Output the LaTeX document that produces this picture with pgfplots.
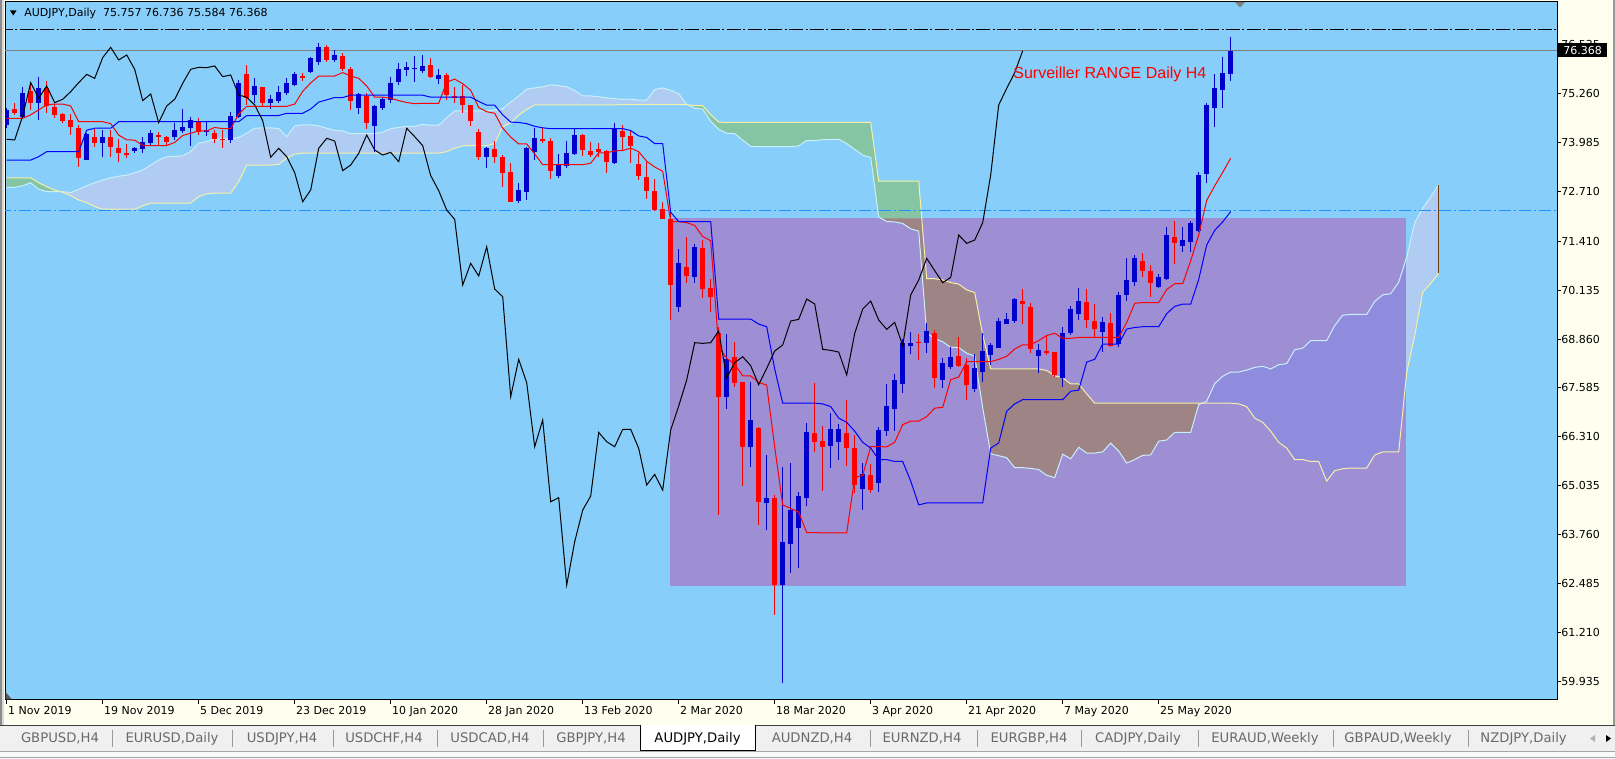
\documentclass[border=0pt]{standalone}
\usepackage{fontspec}
\setmainfont{DejaVu Sans}
\newfontfamily\lib{Liberation Sans}
\usepackage{pgfplots}
\usepackage{pgfplotstable}
\pgfplotsset{compat=1.18}

\definecolor{bgc}{RGB}{135,206,250}
\definecolor{rectc}{RGB}{158,142,211}
\definecolor{bullout}{RGB}{176,204,242}
\definecolor{bearout}{RGB}{134,197,164}
\definecolor{bearin}{RGB}{158,132,133}
\definecolor{bullin}{RGB}{143,140,222}
\definecolor{spana}{RGB}{200,240,250}
\definecolor{spanb}{RGB}{245,240,170}
\definecolor{bullc}{RGB}{0,0,205}
\definecolor{bearc}{RGB}{255,0,0}
\definecolor{ivoryc}{RGB}{255,255,240}
\definecolor{dodger}{RGB}{30,144,255}
\definecolor{tabbg}{RGB}{240,240,240}
\definecolor{tabtxt}{RGB}{105,105,105}
\definecolor{brownl}{RGB}{110,60,20}

% bullish candles: index open high low close
\pgfplotstableread{
i o h l c
0 74.435 74.87 74.35 74.826
2 74.652 75.433 74.61 75.26
4 75.0 75.68 74.565 75.39
10 73.524 74.235 73.524 74.2
12 73.975 74.305 73.593 74.114
16 73.767 73.87 73.715 73.828
17 73.8 74.114 73.715 74.0
18 73.975 74.305 73.914 74.218
21 74.13 74.478 74.045 74.305
22 74.288 74.843 74.218 74.39
23 74.35 74.652 73.888 74.565
25 74.27 74.522 74.149 74.305
28 74.045 74.782 73.958 74.67
29 74.635 75.606 74.61 75.537
31 75.216 75.65 75.0 75.45
33 75.017 75.216 74.843 75.104
34 75.07 75.45 75.017 75.303
35 75.26 75.65 75.216 75.537
36 75.477 75.824 75.45 75.754
38 75.824 76.215 75.797 76.189
39 76.084 76.579 75.998 76.457
41 76.128 76.388 76.067 76.258
44 74.869 75.277 74.722 75.242
46 74.409 74.947 73.741 74.93
47 74.869 75.173 74.826 75.104
48 75.086 75.694 75.0 75.52
49 75.563 76.041 75.477 75.885
50 75.867 76.084 75.711 75.937
51 75.885 76.232 75.563 75.928
52 75.85 76.258 75.78 75.972
54 75.624 75.885 75.503 75.737
60 73.611 73.854 73.307 73.828
64 72.463 72.915 72.411 72.741
65 72.698 73.87 72.481 73.826
66 73.74 74.347 73.523 74.087
69 73.106 73.67 73.045 73.392
70 73.366 74.017 73.306 73.696
71 73.679 74.321 73.653 74.174
76 73.453 74.478 73.418 74.347
84 69.702 71.196 69.554 70.831
86 70.484 71.334 70.31 71.265
90 67.358 68.99 67.036 68.33
93 66.055 67.748 65.534 66.75
95 64.597 65.838 63.885 64.727
97 62.452 65.534 59.90 63.581
98 63.511 65.621 62.773 64.405
99 63.945 64.866 62.903 64.77
100 64.71 66.663 64.518 66.428
103 66.081 66.923 65.491 66.507
104 66.185 66.646 65.708 66.507
107 64.944 65.621 64.405 65.334
109 65.118 66.576 64.883 66.49
110 66.472 67.688 66.333 67.115
111 67.036 67.94 66.472 67.792
112 67.688 68.851 67.462 68.765
113 68.686 69.033 68.469 68.747
115 68.765 69.268 68.504 69.068
117 67.792 68.374 67.575 68.243
118 68.122 68.66 68.07 68.4
121 67.549 68.469 67.488 68.096
122 68.009 69.007 67.749 68.547
123 68.443 68.765 68.183 68.704
124 68.634 69.398 68.617 69.329
125 69.251 69.546 69.251 69.372
126 69.338 69.937 69.268 69.902
129 68.426 68.721 67.983 68.565
132 67.853 69.181 67.618 69.007
133 69.007 69.72 68.964 69.641
134 69.502 70.18 69.355 69.85
137 69.051 69.424 68.53 69.294
139 68.721 70.093 68.66 70.006
140 70.006 70.961 69.859 70.397
141 70.353 71.048 70.24 70.961
144 70.223 70.544 70.197 70.466
145 70.423 71.768 70.397 71.569
147 71.282 71.768 71.135 71.438
148 71.395 71.934 71.135 71.89
149 71.682 73.201 71.656 73.132
150 73.158 74.999 72.932 74.955
151 74.868 75.763 74.391 75.389
152 75.346 76.214 74.868 75.798
153 75.757 76.736 75.584 76.368
}\bull

% bearish candles
\pgfplotstableread{
i o h l c
1 74.852 75.017 74.696 74.756
3 75.32 75.477 74.826 75.017
5 75.39 75.58 74.74 74.93
6 74.895 74.982 74.61 74.696
7 74.722 74.74 74.478 74.548
8 74.565 74.72 74.175 74.39
9 74.35 74.435 73.35 73.567
11 74.114 74.32 73.87 73.958
13 74.114 74.305 73.61 73.87
14 73.828 74.06 73.48 73.715
15 73.697 73.93 73.585 73.68
19 74.175 74.244 73.888 74.114
20 74.13 74.149 73.888 74.0
24 74.54 74.63 74.175 74.26
26 74.235 74.305 73.975 74.062
27 74.07 74.305 73.828 74.045
30 75.763 75.998 74.956 75.13
32 75.416 75.416 74.93 75.017
37 75.711 75.797 75.59 75.65
40 76.475 76.518 76.067 76.128
42 76.232 76.301 75.85 75.885
43 75.893 75.937 74.826 75.07
45 75.19 75.277 74.322 74.496
53 75.998 76.171 75.65 75.694
55 75.737 75.797 75.086 75.216
56 75.19 75.433 75.017 75.156
57 75.19 75.477 74.756 74.956
58 74.956 74.956 74.409 74.548
59 74.262 74.322 73.524 73.593
61 73.809 74.009 73.436 73.609
62 73.609 73.653 72.811 73.193
63 73.219 73.453 72.437 72.437
67 74.07 74.39 73.974 74.017
68 74.017 74.087 73.028 73.245
72 74.174 74.191 73.635 73.783
73 73.757 73.983 73.609 73.653
74 73.8 73.957 73.592 73.722
75 73.766 73.783 73.175 73.479
77 74.278 74.434 73.783 74.13
78 74.148 74.287 73.436 73.896
79 73.418 73.696 73.002 73.115
80 73.071 73.479 72.507 72.724
81 72.715 73.019 72.203 72.22
82 72.237 72.437 71.977 71.977
83 71.977 72.133 69.355 70.266
85 70.727 71.526 70.31 70.501
87 71.239 71.439 69.936 70.162
88 70.197 70.423 69.572 69.963
89 69.007 69.181 64.275 67.358
91 68.4 68.79 67.618 67.722
92 67.748 67.748 65.03 66.055
94 66.55 66.576 64.015 64.622
96 64.727 64.796 61.67 62.452
101 66.402 67.722 65.925 66.185
102 66.203 66.593 64.909 66.055
105 66.402 67.271 65.552 66.012
106 66.012 66.359 64.857 65.057
108 65.317 65.604 64.84 64.926
114 68.782 68.99 68.313 68.765
116 69.025 69.094 67.575 67.853
119 68.417 68.903 68.122 68.165
120 68.183 68.357 67.271 67.67
127 69.85 70.154 69.242 69.772
128 69.694 69.789 68.487 68.591
130 68.539 68.964 68.443 68.521
131 68.513 68.513 67.879 67.922
135 69.815 70.154 69.138 69.355
136 69.329 69.763 68.877 69.112
138 69.268 69.529 68.66 68.686
142 70.892 71.091 70.483 70.64
143 70.631 70.788 69.945 70.327
146 71.508 71.934 70.805 71.352
}\bear

% closes used by the lagging (chikou) line, plotted 26 bars back
\pgfplotstableread{
i c
26 74.062
27 74.045
28 74.67
29 75.537
30 75.13
31 75.45
32 75.017
33 75.104
34 75.303
35 75.537
36 75.754
37 75.65
38 76.189
39 76.457
40 76.128
41 76.258
42 75.885
43 75.07
44 75.242
45 74.496
46 74.93
47 75.104
48 75.52
49 75.885
50 75.937
51 75.928
52 75.972
53 75.694
54 75.737
55 75.216
56 75.156
57 74.956
58 74.548
59 73.593
60 73.828
61 73.609
62 73.193
63 72.437
64 72.741
65 73.826
66 74.087
67 74.017
68 73.245
69 73.392
70 73.696
71 74.174
72 73.783
73 73.653
74 73.722
75 73.479
76 74.347
77 74.13
78 73.896
79 73.115
80 72.724
81 72.22
82 71.977
83 70.266
84 70.831
85 70.501
86 71.265
87 70.162
88 69.963
89 67.358
90 68.33
91 67.722
92 66.055
93 66.75
94 64.622
95 64.727
96 62.452
97 63.581
98 64.405
99 64.77
100 66.428
101 66.185
102 66.055
103 66.507
104 66.507
105 66.012
106 65.057
107 65.334
108 64.926
109 66.49
110 67.115
111 67.792
112 68.765
113 68.747
114 68.765
115 69.068
116 67.853
117 68.243
118 68.4
119 68.165
120 67.67
121 68.096
122 68.547
123 68.704
124 69.329
125 69.372
126 69.902
127 69.772
128 68.591
129 68.565
130 68.521
131 67.922
132 69.007
133 69.641
134 69.85
135 69.355
136 69.112
137 69.294
138 68.686
139 70.006
140 70.397
141 70.961
142 70.64
143 70.327
144 70.466
145 71.569
146 71.352
147 71.438
148 71.89
149 73.132
150 74.955
151 75.389
152 75.798
153 76.368
}\closes

% tenkan (T) and kijun (K)
\pgfplotstableread{
i T K
0 74.61 73.52
1 74.61 73.52
2 74.61 73.52
3 74.70 73.52
4 74.83 73.61
5 74.96 73.74
6 74.98 73.74
7 74.98 73.74
8 74.93 73.74
9 74.52 73.74
10 74.52 74.30
11 74.52 74.35
12 74.52 74.35
13 74.47 74.35
14 74.17 74.52
15 74.05 74.52
16 74.04 74.52
17 73.90 74.52
18 73.90 74.52
19 73.90 74.52
20 73.90 74.52
21 73.98 74.52
22 74.16 74.52
23 74.22 74.52
24 74.28 74.52
25 74.28 74.52
26 74.37 74.52
27 74.34 74.52
28 74.34 74.52
29 74.72 74.52
30 74.92 74.68
31 74.92 74.68
32 74.92 74.68
33 74.92 74.68
34 74.92 74.68
35 74.92 74.74
36 74.98 74.74
37 75.31 74.74
38 75.53 74.85
39 75.71 75.03
40 75.71 75.09
41 75.71 75.15
42 75.80 75.15
43 75.71 75.21
44 75.65 75.21
45 75.45 75.21
46 75.16 75.21
47 75.16 75.21
48 75.13 75.21
49 75.07 75.21
50 75.02 75.21
51 74.99 75.21
52 75.00 75.21
53 75.00 75.16
54 75.00 75.16
55 75.55 75.16
56 75.63 75.16
57 75.51 75.16
58 75.34 75.16
59 74.89 75.05
60 74.78 74.95
61 74.74 74.95
62 74.35 74.70
63 74.12 74.51
64 73.94 74.50
65 73.94 74.47
66 73.68 74.40
67 73.40 74.36
68 73.40 74.34
69 73.40 74.34
70 73.40 74.34
71 73.40 74.34
72 73.40 74.34
73 73.44 74.34
74 73.71 74.34
75 73.71 74.34
76 73.76 74.34
77 73.77 74.34
78 73.83 74.29
79 73.74 74.15
80 73.49 74.11
81 73.34 73.95
82 73.23 73.95
83 71.92 72.16
84 71.92 71.92
85 71.89 71.92
86 71.82 71.92
87 71.53 71.92
88 71.42 71.92
89 68.65 69.38
90 68.36 69.38
91 68.20 69.38
92 67.90 69.38
93 67.90 69.38
94 67.73 69.25
95 67.66 69.18
96 66.05 68.08
97 64.54 67.19
98 64.45 67.19
99 64.35 67.19
100 63.82 67.19
101 63.82 67.19
102 63.81 67.17
103 63.81 67.10
104 63.81 66.80
105 63.81 66.69
106 65.25 66.46
107 65.31 66.17
108 66.06 66.02
109 66.06 65.72
110 66.05 65.72
111 66.17 65.67
112 66.63 65.67
113 66.72 65.16
114 66.72 64.54
115 66.84 64.59
116 67.06 64.59
117 67.08 64.59
118 67.80 64.59
119 67.87 64.59
120 68.27 64.59
121 68.27 64.59
122 68.27 64.59
123 68.27 66.02
124 68.33 66.15
125 68.41 66.98
126 68.60 67.17
127 68.71 67.28
128 68.71 67.28
129 68.82 67.28
130 68.95 67.28
131 69.01 67.28
132 68.88 67.28
133 68.88 67.50
134 68.90 67.53
135 68.90 68.26
136 68.90 68.33
137 68.90 68.73
138 68.90 68.73
139 68.90 68.73
140 69.29 69.12
141 69.79 69.16
142 69.81 69.18
143 69.81 69.18
144 69.81 69.18
145 70.15 69.52
146 70.30 69.71
147 70.30 69.77
148 70.90 69.77
149 71.57 70.41
150 72.47 71.31
151 72.85 71.69
152 73.20 71.91
153 73.57 72.18
}\tk

% senkou span A and B (already shifted 26 bars forward)
\pgfplotstableread{
j A B
0 72.81 73.06
1 72.81 73.06
2 72.85 73.06
3 72.93 73.06
4 72.76 72.93
5 72.70 72.83
6 72.70 72.74
7 72.70 72.68
8 72.67 72.59
9 72.76 72.48
10 72.85 72.41
11 72.93 72.31
12 73.00 72.24
13 73.06 72.24
14 73.10 72.24
15 73.13 72.24
16 73.19 72.24
17 73.26 72.33
18 73.39 72.40
19 73.52 72.40
20 73.61 72.40
21 73.62 72.40
22 73.63 72.40
23 73.74 72.40
24 73.96 72.57
25 74.00 72.64
26 74.07 72.66
27 74.07 72.66
28 74.07 72.66
29 74.11 72.96
30 74.22 73.39
31 74.35 73.39
32 74.36 73.39
33 74.36 73.39
34 74.34 73.41
35 74.13 73.57
36 74.41 73.68
37 74.44 73.70
38 74.44 73.70
39 74.41 73.70
40 74.35 73.70
41 74.29 73.70
42 74.28 73.70
43 74.21 73.70
44 74.21 73.70
45 74.21 73.70
46 74.21 73.70
47 74.25 73.70
48 74.34 73.70
49 74.37 73.70
50 74.40 73.70
51 74.40 73.70
52 74.45 73.70
53 74.43 73.70
54 74.43 73.70
55 74.62 73.74
56 74.80 73.83
57 74.80 73.89
58 74.80 73.90
59 74.80 73.90
60 74.80 73.90
61 74.83 73.95
62 74.86 74.39
63 75.03 74.49
64 75.19 74.69
65 75.37 74.84
66 75.40 74.96
67 75.43 74.96
68 75.48 74.96
69 75.46 74.96
70 75.43 74.96
71 75.33 74.96
72 75.19 74.96
73 75.19 74.96
74 75.17 74.96
75 75.14 74.96
76 75.12 74.96
77 75.10 74.965
78 75.11 74.965
79 75.08 74.965
80 75.08 74.965
81 75.36 74.965
82 75.40 74.965
83 75.34 74.965
84 75.25 74.965
85 74.97 74.965
86 74.87 74.94
87 74.85 74.94
88 74.53 74.70
89 74.32 74.51
90 74.22 74.50
91 74.21 74.50
92 74.04 74.50
93 73.88 74.50
94 73.87 74.50
95 73.87 74.50
96 73.87 74.50
97 73.87 74.50
98 73.87 74.50
99 73.89 74.50
100 74.03 74.50
101 74.03 74.50
102 74.05 74.50
103 74.06 74.50
104 74.06 74.50
105 73.95 74.50
106 73.80 74.50
107 73.65 74.50
108 73.59 74.50
109 72.04 72.97
110 71.92 72.97
111 71.91 72.97
112 71.87 72.97
113 71.73 72.97
114 71.67 72.97
115 69.02 70.43
116 68.87 70.43
117 68.79 70.40
118 68.64 70.33
119 68.64 70.29
120 68.49 70.14
121 68.42 70.07
122 67.07 68.97
123 65.87 68.08
124 65.82 68.08
125 65.77 68.08
126 65.51 68.08
127 65.51 68.08
128 65.49 68.08
129 65.46 68.08
130 65.31 68.04
131 65.25 67.90
132 65.86 67.85
133 65.74 67.69
134 66.04 67.69
135 65.89 67.43
136 65.89 67.19
137 65.92 67.19
138 66.15 67.19
139 65.94 67.19
140 65.63 67.19
141 65.72 67.19
142 65.83 67.19
143 65.84 67.19
144 66.20 67.19
145 66.23 67.19
146 66.43 67.19
147 66.43 67.19
148 66.43 67.19
149 67.15 67.19
150 67.24 67.19
151 67.70 67.19
152 67.89 67.19
153 68.00 67.19
154 68.00 67.17
155 68.05 67.10
156 68.12 66.80
157 68.15 66.69
158 68.08 66.46
159 68.19 66.17
160 68.22 66.02
161 68.58 65.72
162 68.62 65.72
163 68.82 65.67
164 68.82 65.67
165 68.82 65.16
166 69.21 65.43
167 69.48 65.48
168 69.50 65.50
169 69.50 65.50
170 69.50 65.50
171 69.84 65.84
172 70.01 65.92
173 70.04 65.92
174 70.34 65.92
175 70.99 67.99
176 71.89 68.95
177 72.27 70.08
178 72.56 70.31
179 72.88 70.57
}\spans

\newcommand{\tf}{\fontsize{5.5pt}{6.6pt}\selectfont}
\newcommand{\tabf}{\fontsize{6.6pt}{8pt}\selectfont}
\pgfplotsset{candle/.style={only marks, mark=*, mark size=0pt, mark options={draw=none, fill=none}, forget plot}}

\begin{document}
\begin{tikzpicture}
\useasboundingbox (0,0) rectangle (807.5pt,379.5pt);
\begin{scope}[x=0.5pt,y=-0.5pt,shift={(0pt,379.5pt)}]
  \fill[black!33] (0,0) rectangle (1615,759);
  \fill[ivoryc] (4,0) rectangle (1613,725);
  \fill[black!45] (0,0) rectangle (2,725);
  \fill[black!15] (2,0) rectangle (4,725);
  \fill[black!40] (1613,0) rectangle (1615,725);
  \fill[tabbg] (0,725) rectangle (1615,751);
  \fill[black!2] (0,751) rectangle (1615,759);
  \draw[black!35, line width=0.5pt] (0,751.5) -- (1615,751.5);
  \draw[black!35, line width=0.5pt] (0,757.5) -- (1615,757.5);
\end{scope}

\begin{axis}[
  at={(2.5pt,29.5pt)}, anchor=south west,
  scale only axis, width=776pt, height=349.15pt,
  xmin=-0.2125, xmax=193.79, ymin=59.458, ymax=77.646,
  axis background/.style={fill=bgc},
  axis line style={black, line width=0.5pt},
  xtick={0,12,24,36,48,60,72,84,96,108,120,132,144},
  xticklabels={1 Nov 2019,19 Nov 2019,5 Dec 2019,23 Dec 2019,10 Jan 2020,28 Jan 2020,13 Feb 2020,2 Mar 2020,18 Mar 2020,3 Apr 2020,21 Apr 2020,7 May 2020,25 May 2020},
  ytick={59.935,61.210,62.485,63.760,65.035,66.310,67.585,68.860,70.135,71.410,72.710,73.985,75.260,76.535},
  yticklabels={59.935,61.210,62.485,63.760,65.035,66.310,67.585,68.860,70.135,71.410,72.710,73.985,75.260,76.535},
  xtick pos=bottom, ytick pos=right, yticklabel pos=right,
  tick align=outside, major tick length=2pt,
  tick style={black, line width=0.5pt},
  xticklabel style={font=\tf, anchor=north west, inner sep=0pt, xshift=0.5pt, yshift=-1pt},
  yticklabel style={font=\tf, anchor=west, inner sep=0pt},
  clip=true,
]
% purple range rectangle
\addplot[fill=rectc, draw=none, forget plot] coordinates {(82.9,62.44) (174.9,62.44) (174.9,72.0) (82.9,72.0)};
% cloud: bearish part (span B above span A)
\addplot[fill=bearout, draw=none, forget plot] coordinates {(0,72.81)(1,72.81)(2,72.85)(3,72.93)(4,72.76)(5,72.70)(6,72.70)(6.67,72.70)(6,72.74)(5,72.83)(4,72.93)(3,73.06)(0,73.06)};
% cloud: bullish part 1
\addplot[fill=bullout, draw=none, forget plot] coordinates {(6.67,72.70)(7,72.70)(8,72.67)(9,72.76)(10,72.85)(11,72.93)(12,73.00)(13,73.06)(14,73.10)(15,73.13)(16,73.19)(17,73.26)(18,73.39)(19,73.52)(20,73.61)(21,73.62)(22,73.63)(23,73.74)(24,73.96)(25,74.00)(26,74.07)(28,74.07)(29,74.11)(30,74.22)(31,74.35)(32,74.36)(33,74.36)(34,74.34)(35,74.13)(36,74.41)(37,74.44)(38,74.44)(39,74.41)(40,74.35)(41,74.29)(42,74.28)(43,74.21)(46,74.21)(47,74.25)(48,74.34)(49,74.37)(50,74.40)(51,74.40)(52,74.45)(53,74.43)(54,74.43)(55,74.62)(56,74.80)(60,74.80)(61,74.83)(62,74.86)(63,75.03)(64,75.19)(65,75.37)(66,75.40)(67,75.43)(68,75.48)(69,75.46)(70,75.43)(71,75.33)(72,75.19)(73,75.19)(74,75.17)(75,75.14)(76,75.12)(77,75.10)(78,75.11)(79,75.08)(80,75.08)(81,75.36)(82,75.40)(83,75.34)(84,75.25)(85,74.967)(77,74.965)(76,74.96)(66,74.96)(65,74.84)(64,74.69)(63,74.49)(62,74.39)(61,73.95)(58,73.90)(57,73.89)(56,73.83)(55,73.74)(54,73.70)(37,73.70)(36,73.68)(35,73.57)(34,73.41)(33,73.39)(30,73.39)(29,72.96)(28,72.66)(26,72.66)(25,72.64)(24,72.57)(23,72.40)(18,72.40)(17,72.33)(16,72.24)(12,72.24)(11,72.31)(10,72.41)(9,72.48)(8,72.59)(7,72.68)};
% cloud: bearish part 2
\addplot[fill=bearout, draw=none, forget plot] coordinates {(85,74.967)(86,74.87)(87,74.85)(88,74.53)(89,74.32)(90,74.22)(91,74.21)(92,74.04)(93,73.88)(94,73.87)(98,73.87)(99,73.89)(100,74.03)(101,74.03)(102,74.05)(103,74.06)(104,74.06)(105,73.95)(106,73.80)(107,73.65)(108,73.59)(109,72.04)(110,71.92)(111,71.91)(112,71.87)(113,71.73)(114,71.67)(115,69.02)(116,68.87)(117,68.79)(118,68.64)(119,68.64)(120,68.49)(121,68.42)(122,67.07)(123,65.87)(124,65.82)(125,65.77)(126,65.51)(127,65.51)(128,65.49)(129,65.46)(130,65.31)(131,65.25)(132,65.86)(133,65.74)(134,66.04)(135,65.89)(136,65.89)(137,65.92)(138,66.15)(139,65.94)(140,65.63)(141,65.72)(142,65.83)(143,65.84)(144,66.20)(145,66.23)(146,66.43)(148,66.43)(149,67.15)(149.3,67.185)(149,67.19)(136,67.19)(135,67.43)(134,67.69)(133,67.69)(132,67.85)(131,67.90)(130,68.04)(129,68.08)(123,68.08)(122,68.97)(121,70.07)(120,70.14)(119,70.29)(118,70.33)(117,70.40)(116,70.43)(115,70.43)(114,72.97)(109,72.97)(108,74.50)(90,74.50)(89,74.51)(88,74.70)(87,74.94)(86,74.94)};
% cloud: bullish part 2
\addplot[fill=bullout, draw=none, forget plot] coordinates {(149.3,67.185)(150,67.24)(151,67.70)(152,67.89)(153,68.00)(154,68.00)(155,68.05)(156,68.12)(157,68.15)(158,68.08)(159,68.19)(160,68.22)(161,68.58)(162,68.62)(163,68.82)(165,68.82)(166,69.21)(167,69.48)(168,69.50)(170,69.50)(171,69.84)(172,70.01)(173,70.04)(174,70.34)(175,70.99)(176,71.89)(177,72.27)(178,72.56)(179,72.88)(179,70.57)(178,70.31)(177,70.08)(176,68.95)(175,67.99)(174,65.92)(172,65.92)(171,65.84)(170,65.50)(168,65.50)(167,65.48)(166,65.43)(165,65.16)(164,65.67)(163,65.67)(162,65.72)(161,65.72)(160,66.02)(159,66.17)(158,66.46)(157,66.69)(156,66.80)(155,67.10)(154,67.17)(153,67.19)(150,67.19)};
% cloud parts lying over the range rectangle
\addplot[fill=bearin, draw=none, forget plot] coordinates {(109.33,72.0)(114.38,72.0)(115,70.43)(116,70.43)(117,70.40)(118,70.33)(119,70.29)(120,70.14)(121,70.07)(122,68.97)(123,68.08)(129,68.08)(130,68.04)(131,67.90)(132,67.85)(133,67.69)(134,67.69)(135,67.43)(136,67.19)(149,67.19)(149.3,67.185)(149,67.15)(148,66.43)(146,66.43)(145,66.23)(144,66.20)(143,65.84)(142,65.83)(141,65.72)(140,65.63)(139,65.94)(138,66.15)(137,65.92)(136,65.89)(135,65.89)(134,66.04)(133,65.74)(132,65.86)(131,65.25)(130,65.31)(129,65.46)(128,65.49)(127,65.51)(126,65.51)(125,65.77)(124,65.82)(123,65.87)(122,67.07)(121,68.42)(120,68.49)(119,68.64)(118,68.64)(117,68.79)(116,68.87)(115,69.02)(114,71.67)(113,71.73)(112,71.87)(111,71.91)(110,71.92)};
\addplot[fill=bullin, draw=none, forget plot] coordinates {(149.3,67.185)(150,67.24)(151,67.70)(152,67.89)(153,68.00)(154,68.00)(155,68.05)(156,68.12)(157,68.15)(158,68.08)(159,68.19)(160,68.22)(161,68.58)(162,68.62)(163,68.82)(165,68.82)(166,69.21)(167,69.48)(168,69.50)(170,69.50)(171,69.84)(172,70.01)(173,70.04)(174,70.34)(174.9,70.925)(174.9,67.78)(174,65.92)(172,65.92)(171,65.84)(170,65.50)(168,65.50)(167,65.48)(166,65.43)(165,65.16)(164,65.67)(163,65.67)(162,65.72)(161,65.72)(160,66.02)(159,66.17)(158,66.46)(157,66.69)(156,66.80)(155,67.10)(154,67.17)(153,67.19)(150,67.19)};
\addplot[spana, line width=0.5pt, forget plot] table[x=j, y=A] {\spans};
\addplot[spanb, line width=0.5pt, forget plot] table[x=j, y=B] {\spans};
\addplot[brownl, line width=0.5pt, forget plot] coordinates {(179,70.57) (179,72.88)};
% horizontal lines
\addplot[black, line width=0.5pt, dash pattern=on 7pt off 1.2pt on 1pt off 1.2pt, forget plot] coordinates {(-1,76.909) (200,76.909)};
\addplot[black!50, line width=0.5pt, forget plot] coordinates {(-1,76.368) (200,76.368)};
\addplot[dodger, line width=0.5pt, dash pattern=on 6pt off 1.5pt on 1pt off 1.5pt, forget plot] coordinates {(-1,72.21) (200,72.21)};
% candles: wicks
\addplot[candle,
  error bars/.cd, y dir=both, y explicit, error mark=none,
  error bar style={line width=0.5pt, draw=bullc}]
  table[x=i, y expr={(\thisrow{h}+\thisrow{l})/2}, y error expr={(\thisrow{h}-\thisrow{l})/2}] {\bull};
\addplot[candle,
  error bars/.cd, y dir=both, y explicit, error mark=none,
  error bar style={line width=0.5pt, draw=bearc}]
  table[x=i, y expr={(\thisrow{h}+\thisrow{l})/2}, y error expr={(\thisrow{h}-\thisrow{l})/2}] {\bear};
% candles: bodies
\addplot[candle,
  error bars/.cd, y dir=both, y explicit, error mark=none,
  error bar style={line width=2.5pt, draw=bullc}]
  table[x=i, y expr={(\thisrow{o}+\thisrow{c})/2}, y error expr={(\thisrow{c}-\thisrow{o})/2}] {\bull};
\addplot[candle,
  error bars/.cd, y dir=both, y explicit, error mark=none,
  error bar style={line width=2.5pt, draw=bearc}]
  table[x=i, y expr={(\thisrow{o}+\thisrow{c})/2}, y error expr={(\thisrow{o}-\thisrow{c})/2}] {\bear};
% tenkan, kijun, chikou
\addplot[red, line width=0.5pt, forget plot] table[x=i, y=T] {\tk};
\addplot[blue, line width=0.5pt, forget plot] table[x=i, y=K] {\tk};
\addplot[black, line width=0.5pt, forget plot] table[x expr=\thisrow{i}-26, y=c] {\closes};
\end{axis}

\begin{scope}[x=0.5pt,y=-0.5pt,shift={(0pt,379.5pt)}]
  \fill[black] (10,10.5) -- (16.5,10.5) -- (13.25,15.5) -- cycle;
  \node[anchor=west, inner sep=0pt, font=\tf] at (24,13.3) {AUDJPY,Daily\ \ 75.757 76.736 75.584 76.368};
  \fill[black!50] (1235,2) -- (1245,2) -- (1240,7.5) -- cycle;
  \fill[black!65] (5.5,692) -- (5.5,699.5) -- (12,699.5) -- cycle;
  \node[anchor=west, inner sep=0pt, text=red, font=\lib\fontsize{8pt}{9.6pt}\selectfont] at (1013,74.5) {Surveiller RANGE Daily H4};
  \fill[black] (1558,43.3) rectangle (1607,57);
  \node[text=white, inner sep=0pt, font=\tf] at (1582.5,50.3) {76.368};
  \draw[black!75, line width=0.5pt] (0,725.5) -- (1615,725.5);
  \foreach \sx in {112,232,333,437,543,870,977,1081,1198,1333,1468}
    \draw[black!40, line width=0.5pt] (\sx,730) -- (\sx,747);
  \fill[white] (640,725) rectangle (755,751);
  \draw[black, line width=0.5pt] (640,725) -- (640,751) -- (755,751) -- (755,725);
  \foreach \cx/\lab in {60/{GBPUSD,H4},172/{EURUSD,Daily},282/{USDJPY,H4},384/{USDCHF,H4},490/{USDCAD,H4},591/{GBPJPY,H4},812/{AUDNZD,H4},922/{EURNZD,H4},1029/{EURGBP,H4},1138/{CADJPY,Daily},1265/{EURAUD,Weekly},1398/{GBPAUD,Weekly}}
    \node[text=tabtxt, font=\tabf, inner sep=0pt] at (\cx,738.5) {\lab};
  \node[text=black, font=\tabf, inner sep=0pt] at (697.5,738.5) {AUDJPY,Daily};
  \node[text=tabtxt, font=\tabf, inner sep=0pt, anchor=west] at (1480,738.5) {NZDJPY,Daily};
  \fill[tabbg] (1583,727) rectangle (1615,750);
  \fill[black!30] (1595,735) -- (1590,738.5) -- (1595,742) -- cycle;
  \fill[black] (1606,735) -- (1611,738.5) -- (1606,742) -- cycle;
\end{scope}
\end{tikzpicture}
\end{document}
